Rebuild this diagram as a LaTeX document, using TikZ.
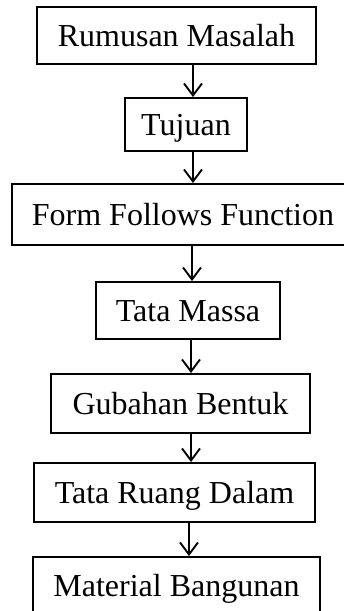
\documentclass[tikz,border=0pt]{standalone}
\usepackage{fontspec}
\setmainfont{Liberation Serif}
\usetikzlibrary{arrows.meta}
\begin{document}
\begin{tikzpicture}[x=1pt,y=-1pt,
  box/.style={draw=black, line width=1.9pt, inner sep=0pt, text height=21.5pt, text depth=0pt,
    font=\fontsize{32}{36}\selectfont},
  arr/.style={line width=1.9pt, -{Straight Barb[length=12pt,width=18pt,line width=1.9pt]}}]
\useasboundingbox (0,0) rectangle (344,611);
\node[box, minimum width=279pt, minimum height=57pt] (b1) at (176.5,35.5) {Rumusan Masalah};
\node[box, minimum width=122pt, minimum height=53pt] (b2) at (186,124.5) {Tujuan};
\node[box, minimum width=342pt, minimum height=61pt] (b3) at (183,214.5) {Form Follows Function};
\node[box, minimum width=184pt, minimum height=57pt] (b4) at (188,310.5) {Tata Massa};
\node[box, minimum width=259pt, minimum height=59pt] (b5) at (180.5,403.5) {Gubahan Bentuk};
\node[box, minimum width=281pt, minimum height=59pt] (b6) at (174.5,492.5) {Tata Ruang Dalam};
\node[box, minimum width=287pt, minimum height=58pt] (b7) at (176.5,586) {Material Bangunan};
\draw[arr] (b1.south -| 193,0) -- (b2.north -| 193,0);
\draw[arr] (b2.south -| 193,0) -- (b3.north -| 193,0);
\draw[arr] (b3.south -| 192,0) -- (b4.north -| 192,0);
\draw[arr] (b4.south -| 191,0) -- (b5.north -| 191,0);
\draw[arr] (b5.south -| 191,0) -- (b6.north -| 191,0);
\draw[arr] (b6.south -| 189,0) -- (b7.north -| 189,0);
\end{tikzpicture}
\end{document}
